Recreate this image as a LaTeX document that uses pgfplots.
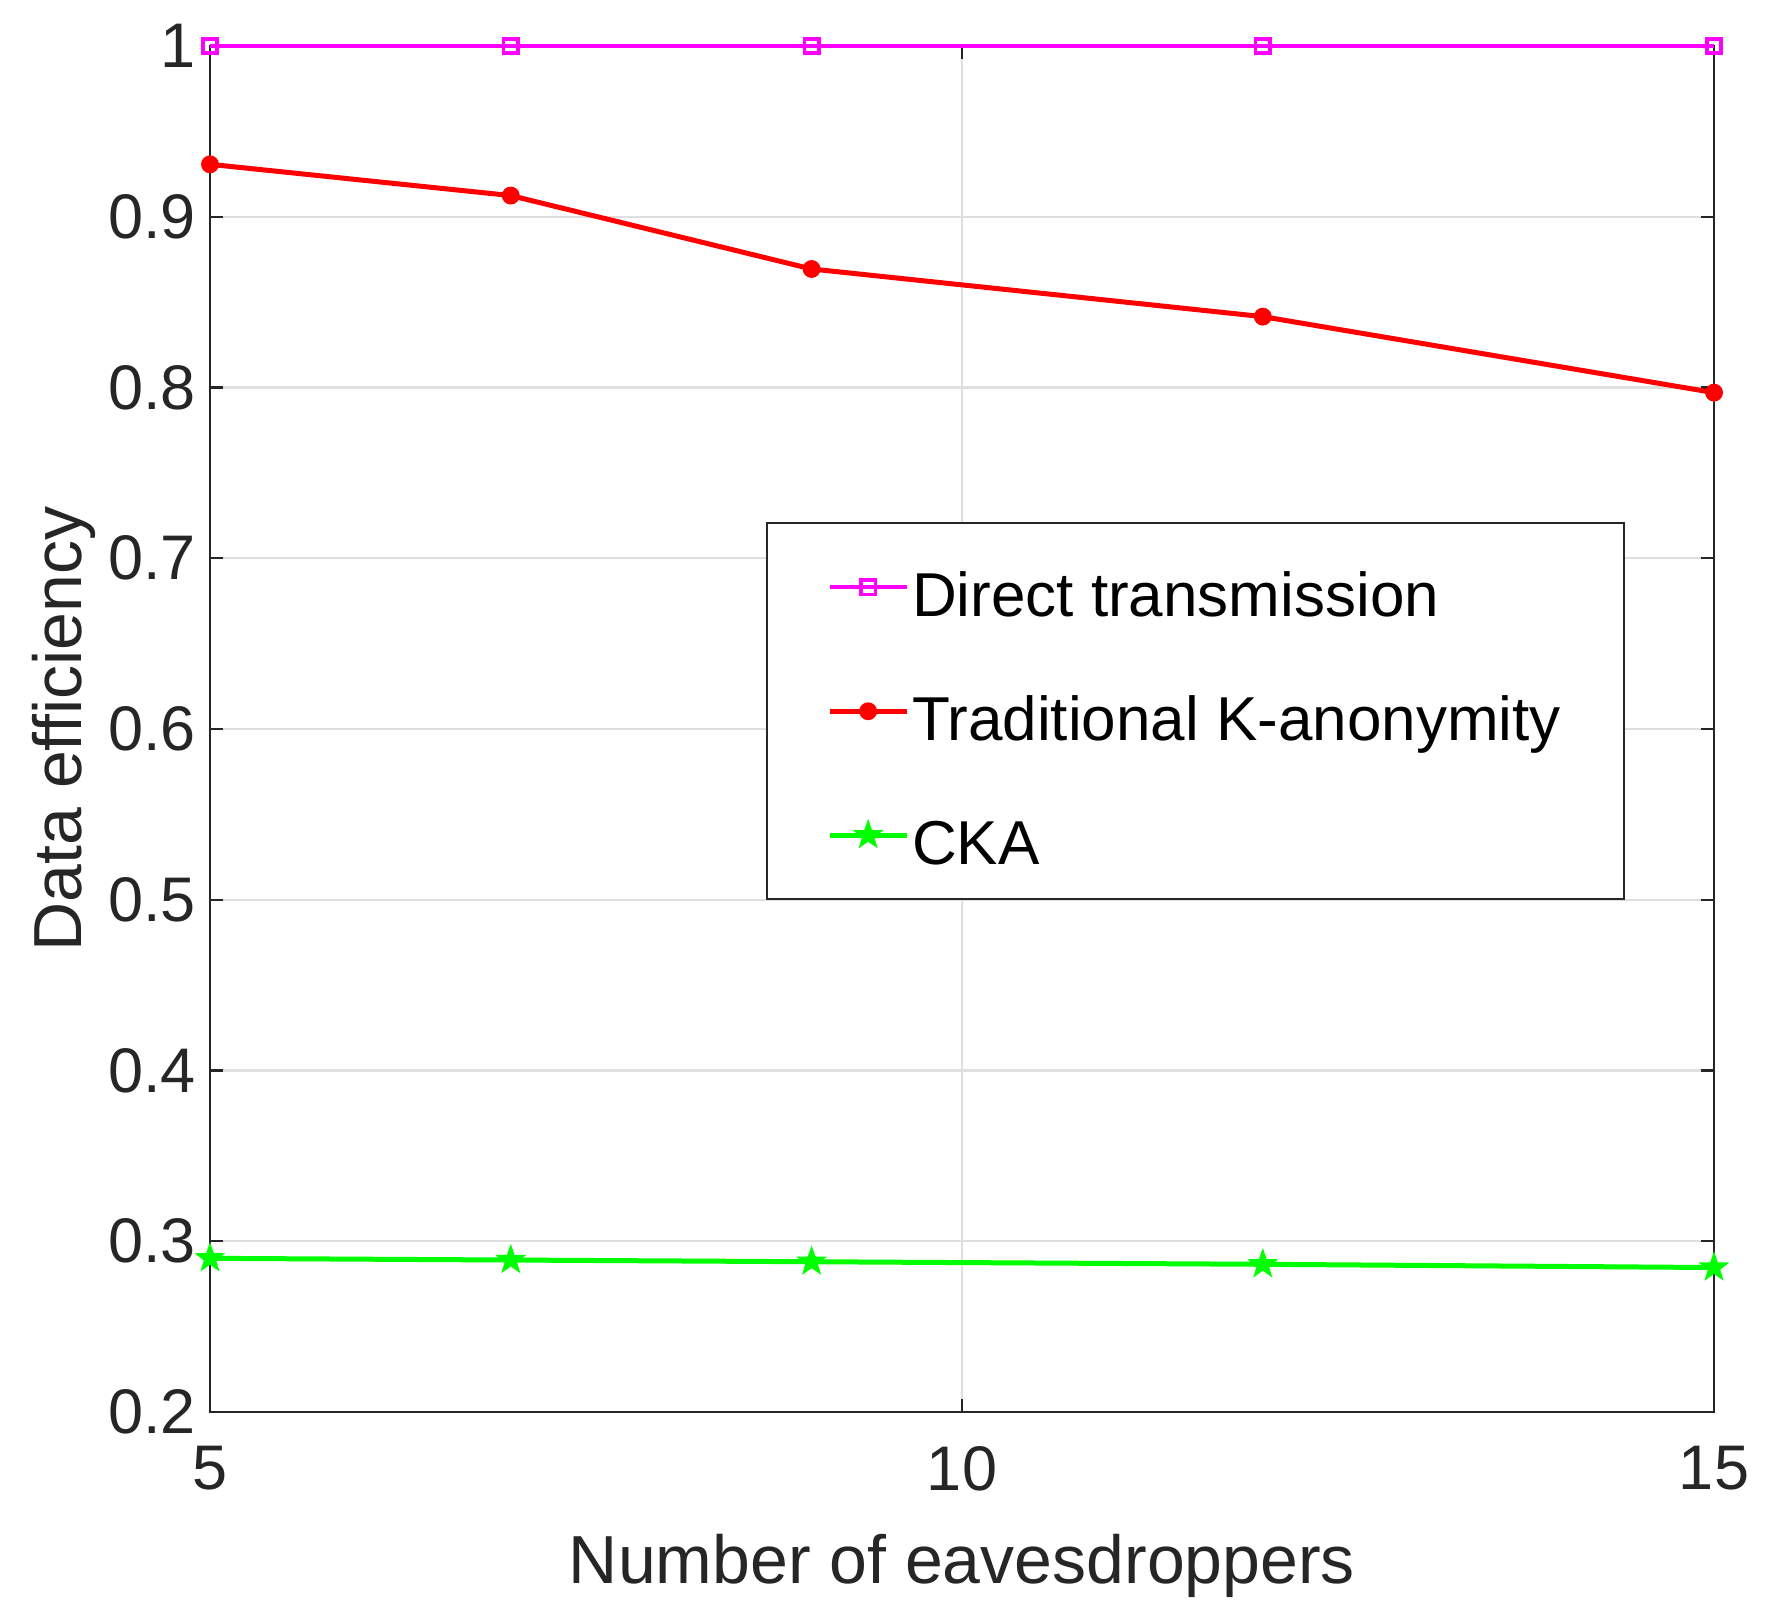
\documentclass[border=0pt]{standalone}
\usepackage{fontspec}
\setmainfont{Liberation Sans}
\usepackage{pgfplots}
\pgfplotsset{compat=1.18}
\definecolor{axgray}{RGB}{38,38,38}
\definecolor{gridgray}{RGB}{223,223,223}
\definecolor{mag}{RGB}{255,0,255}
\definecolor{grn}{RGB}{0,255,0}
\definecolor{rd}{RGB}{255,0,0}
\pgfdeclareplotmark{pentagram}{%
  \pgfpathmoveto{\pgfpointpolar{90}{\pgfplotmarksize}}%
  \pgfpathlineto{\pgfpointpolar{126}{0.4\pgfplotmarksize}}%
  \pgfpathlineto{\pgfpointpolar{162}{\pgfplotmarksize}}%
  \pgfpathlineto{\pgfpointpolar{198}{0.4\pgfplotmarksize}}%
  \pgfpathlineto{\pgfpointpolar{234}{\pgfplotmarksize}}%
  \pgfpathlineto{\pgfpointpolar{270}{0.4\pgfplotmarksize}}%
  \pgfpathlineto{\pgfpointpolar{306}{\pgfplotmarksize}}%
  \pgfpathlineto{\pgfpointpolar{342}{0.4\pgfplotmarksize}}%
  \pgfpathlineto{\pgfpointpolar{18}{\pgfplotmarksize}}%
  \pgfpathlineto{\pgfpointpolar{54}{0.4\pgfplotmarksize}}%
  \pgfpathclose
  \pgfusepathqfillstroke
}
\begin{document}
\begin{tikzpicture}
\begin{axis}[name=ax, scale only axis, width=376pt, height=341.5pt,
  xmin=5, xmax=15, ymin=0.2, ymax=1,
  xtick={5,10,15}, ytick={0.2,0.3,0.4,0.5,0.6,0.7,0.8,0.9,1},
  grid=major, major grid style={gridgray, line width=0.6pt},
  axis line style={axgray, line width=0.6pt},
  tick style={axgray, line width=0.6pt}, major tick length=3.25pt, tick align=inside,
  /pgf/number format/assume math mode=true,
  ticklabel style={font=\fontsize{15.75}{18}\selectfont, text=axgray},
  yticklabel style={/pgf/number format/fixed, /pgf/number format/precision=1},
  xticklabel style={yshift=-5pt},
  xlabel={Number of eavesdroppers}, ylabel={Data efficiency},
  label style={font=\fontsize{17}{20}\selectfont, text=axgray},
  xlabel style={at={(axis description cs:0.5,-0.12592)}, anchor=base},
  ylabel style={at={(axis description cs:-0.08511,0.5)}, anchor=base},
  clip=false,
  legend cell align=left,
  legend image code/.code={\draw[mark repeat=2,mark phase=2] plot coordinates {(0pt,0pt)(9.6pt,0pt)(19.2pt,0pt)};},
  legend style={at={(axis description cs:0.3697,0.6515)}, anchor=north west,
    draw=axgray, line width=0.6pt, fill=white, inner xsep=15pt, inner ysep=0.5pt,
    row sep=0pt, font=\fontsize{15.5}{18}\selectfont, text=black,
    nodes={inner xsep=0.75pt, inner ysep=0pt, text height=22.75pt, text depth=8.25pt}},
]
\addplot[mag, line width=1pt, mark=square, mark size=1.8pt, mark options={solid, line width=0.9pt}]
  coordinates {(5,1) (7,1) (9,1) (12,1) (15,1)};
\addlegendentry{Direct transmission}
\addplot[rd, line width=1.25pt, mark=*, mark size=1.6pt, mark options={solid, fill=rd}]
  coordinates {(5,0.9307) (7,0.9124) (9,0.8694) (12,0.8415) (15,0.797)};
\addlegendentry{Traditional K-anonymity}
\addplot[grn, line width=1.25pt, mark=pentagram, mark size=3.3pt, mark options={solid, fill=grn, line width=0.5pt}]
  coordinates {(5,0.2900) (7,0.2890) (9,0.2880) (12,0.2865) (15,0.2846)};
\addlegendentry{CKA}
\end{axis}
\pgfresetboundingbox
\path ([shift={(-52.5pt,-52.75pt)}]ax.south west) rectangle ([shift={(14.75pt,11.5pt)}]ax.north east);
\end{tikzpicture}
\end{document}
